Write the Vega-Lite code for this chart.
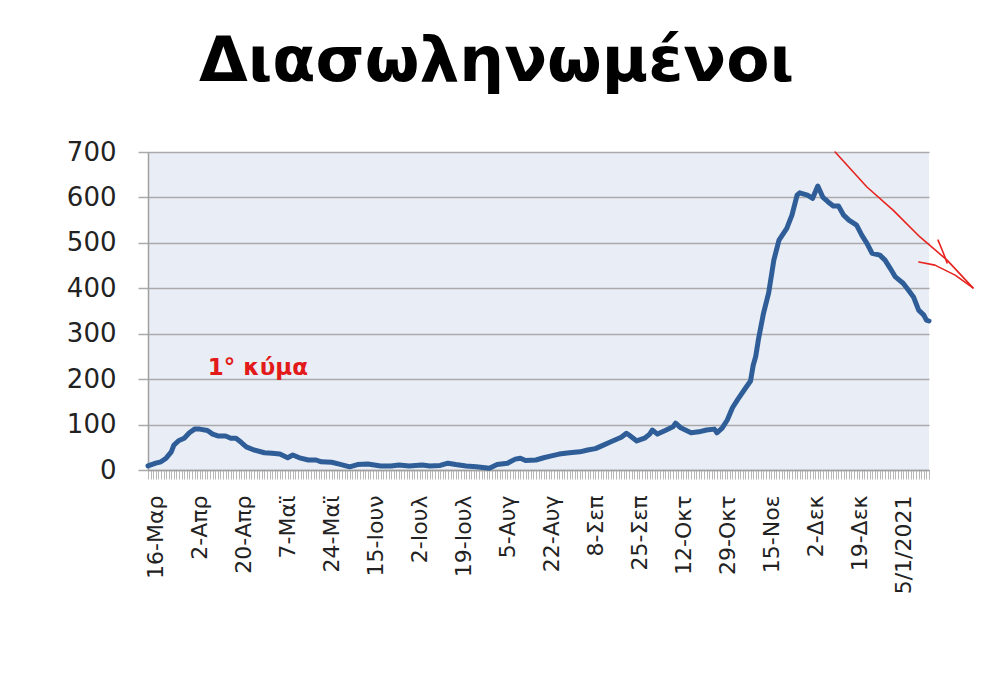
{
  "$schema": "https://vega.github.io/schema/vega-lite/v6.json",
  "width": 781,
  "height": 318,
  "autosize": "none",
  "padding": {"left": 148, "top": 152, "right": 71, "bottom": 230},
  "background": "white",
  "title": {
    "text": "Διασωληνωμένοι",
    "font": "DejaVu Sans",
    "fontSize": 63,
    "fontWeight": "bold",
    "color": "#000000",
    "anchor": "middle",
    "dx": -42,
    "offset": -5,
    "baseline": "alphabetic"
  },
  "config": {
    "view": {"fill": "#e9edf5", "stroke": null}
  },
  "datasets": {
    "series": [
      {"d":0,"v":9},{"d":3,"v":15},{"d":5,"v":18},{"d":7,"v":26},{"d":9,"v":40},{"d":10,"v":55},{"d":12,"v":65},{"d":14,"v":70},{"d":16,"v":82},{"d":18,"v":90},
      {"d":20,"v":90},{"d":23,"v":87},{"d":25,"v":79},{"d":27,"v":75},{"d":30,"v":75},{"d":32,"v":70},{"d":34,"v":70},{"d":36,"v":61},{"d":38,"v":51},{"d":41,"v":44},
      {"d":45,"v":38},{"d":48,"v":37},{"d":51,"v":35},{"d":54,"v":27},{"d":56,"v":33},{"d":59,"v":26},{"d":62,"v":22},{"d":65,"v":22},{"d":67,"v":18},{"d":71,"v":17},
      {"d":74,"v":13},{"d":78,"v":7},{"d":81,"v":12},{"d":85,"v":13},{"d":90,"v":9},{"d":94,"v":9},{"d":97,"v":11},{"d":101,"v":9},{"d":106,"v":11},{"d":109,"v":9},
      {"d":113,"v":10},{"d":116,"v":15},{"d":119,"v":12},{"d":123,"v":9},{"d":127,"v":7},{"d":132,"v":4},{"d":135,"v":12},{"d":139,"v":15},{"d":142,"v":24},{"d":144,"v":26},
      {"d":146,"v":21},{"d":150,"v":22},{"d":153,"v":27},{"d":156,"v":31},{"d":159,"v":35},{"d":163,"v":38},{"d":167,"v":40},{"d":170,"v":44},{"d":173,"v":47},{"d":175,"v":52},
      {"d":179,"v":62},{"d":181,"v":67},{"d":183,"v":72},{"d":185,"v":81},{"d":186,"v":77},{"d":189,"v":64},{"d":192,"v":70},{"d":194,"v":79},{"d":195,"v":88},{"d":197,"v":79},
      {"d":200,"v":87},{"d":203,"v":95},{"d":204,"v":103},{"d":206,"v":93},{"d":210,"v":82},{"d":213,"v":84},{"d":216,"v":88},{"d":219,"v":90},{"d":220,"v":82},{"d":222,"v":92},
      {"d":224,"v":110},{"d":226,"v":137},{"d":228,"v":155},{"d":231,"v":180},{"d":233,"v":196},{"d":234,"v":230},{"d":235,"v":250},{"d":236,"v":286},{"d":238,"v":345},{"d":240,"v":390},
      {"d":242,"v":462},{"d":244,"v":506},{"d":247,"v":532},{"d":249,"v":561},{"d":251,"v":605},{"d":252,"v":610},{"d":255,"v":605},{"d":257,"v":598},{"d":259,"v":625},{"d":261,"v":600},
      {"d":263,"v":590},{"d":265,"v":581},{"d":267,"v":581},{"d":269,"v":561},{"d":271,"v":550},{"d":274,"v":539},{"d":276,"v":517},{"d":278,"v":499},{"d":280,"v":477},{"d":283,"v":473},
      {"d":285,"v":462},{"d":287,"v":444},{"d":289,"v":425},{"d":292,"v":411},{"d":294,"v":396},{"d":296,"v":381},{"d":298,"v":352},{"d":300,"v":341},{"d":301,"v":330},{"d":302,"v":328}
    ],
    "note": [
      {"d": 42.5, "v": 224, "t": "1° κύμα"}
    ],
    "arrow": [
      {"s":"a","o":1,"d":265.7,"v":700},{"s":"a","o":2,"d":278.0,"v":623},{"s":"a","o":3,"d":288.1,"v":572},{"s":"a","o":4,"d":298.5,"v":513},{"s":"a","o":5,"d":309.0,"v":462},{"s":"a","o":6,"d":319.0,"v":401},
      {"s":"b","o":1,"d":298.1,"v":458},{"s":"b","o":2,"d":304.3,"v":451},{"s":"b","o":3,"d":312.1,"v":429},{"s":"b","o":4,"d":319.0,"v":401},
      {"s":"c","o":1,"d":305.5,"v":506},{"s":"c","o":2,"d":307.4,"v":480},{"s":"c","o":3,"d":309.0,"v":456}
    ]
  },
  "layer": [
    {
      "data": {"name": "series"},
      "mark": {"type": "line", "color": "#2e5d98", "strokeWidth": 5, "strokeJoin": "round", "strokeCap": "round"},
      "encoding": {
        "x": {
          "field": "d", "type": "quantitative",
          "scale": {"domain": [0, 302], "nice": false, "zero": false},
          "axis": {
            "title": null,
            "grid": false,
            "tickCount": 302,
            "tickSize": 9,
            "tickColor": "#b8b8b8",
            "tickWidth": 1,
            "domainColor": "#a0a0a0",
            "domainWidth": 1.5,
            "labelAngle": 270,
            "labelAlign": "right",
            "labelBaseline": "middle",
            "labelPadding": 16,
            "labelOverlap": false,
            "labelBound": false,
            "labelFlush": false,
            "labelFont": "DejaVu Sans",
            "labelFontSize": 22,
            "labelColor": "#222222",
            "labelExpr": "(datum.value >= 3 && (datum.value - 3) % 17 == 0) ? ['16-Μαρ','2-Απρ','20-Απρ','7-Μαϊ','24-Μαϊ','15-Ιουν','2-Ιουλ','19-Ιουλ','5-Αυγ','22-Αυγ','8-Σεπ','25-Σεπ','12-Οκτ','29-Οκτ','15-Νοε','2-Δεκ','19-Δεκ','5/1/2021'][(datum.value - 3) / 17] : ''"
          }
        },
        "y": {
          "field": "v", "type": "quantitative",
          "scale": {"domain": [0, 700], "nice": false},
          "axis": {
            "title": null,
            "values": [0, 100, 200, 300, 400, 500, 600, 700],
            "grid": true,
            "gridColor": "#aaaaaa",
            "gridWidth": 1.5,
            "tickSize": 10,
            "tickColor": "#aaaaaa",
            "tickWidth": 1.5,
            "domainColor": "#a0a0a0",
            "domainWidth": 1.5,
            "labelPadding": 22,
            "labelFont": "DejaVu Sans",
            "labelFontSize": 26,
            "labelColor": "#222222"
          }
        }
      }
    },
    {
      "data": {"name": "note"},
      "mark": {"type": "text", "color": "#e21a1a", "font": "DejaVu Sans", "fontSize": 23, "fontWeight": "bold", "align": "center", "baseline": "middle"},
      "encoding": {
        "x": {"field": "d", "type": "quantitative"},
        "y": {"field": "v", "type": "quantitative"},
        "text": {"field": "t"}
      }
    },
    {
      "data": {"name": "arrow"},
      "mark": {"type": "line", "color": "#e8231f", "strokeWidth": 1.6, "strokeCap": "round", "strokeJoin": "round", "clip": false},
      "encoding": {
        "x": {"field": "d", "type": "quantitative"},
        "y": {"field": "v", "type": "quantitative"},
        "detail": {"field": "s"},
        "order": {"field": "o"}
      }
    }
  ]
}
